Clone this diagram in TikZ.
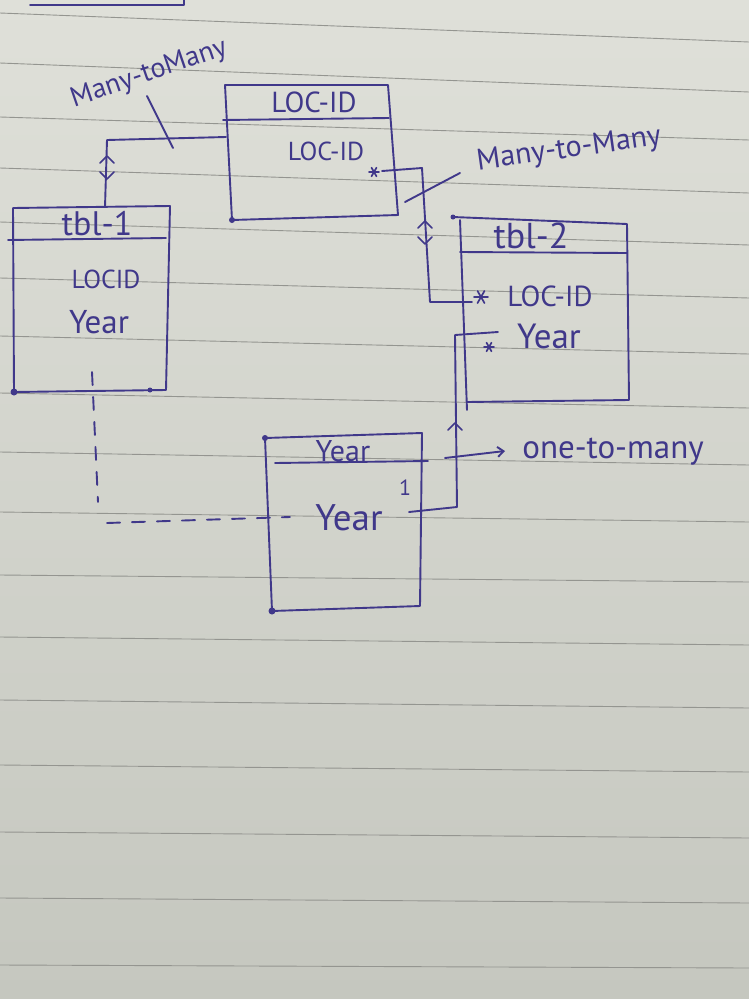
\documentclass[tikz,border=0pt]{standalone}
\usepackage{fontspec}
\setmainfont{PT Sans}
\usetikzlibrary{arrows.meta}
\definecolor{ink}{RGB}{64,56,138}
\definecolor{paperT}{RGB}{223,224,217}
\definecolor{paperB}{RGB}{197,199,191}
\definecolor{ruling}{RGB}{148,149,144}
\begin{document}
\begin{tikzpicture}[x=1pt,y=-1pt,
  inkline/.style={draw=ink,line width=1.9pt,line cap=round,line join=round},
  ruleline/.style={draw=ruling,line width=0.9pt},
  dsh/.style={inkline,dash pattern=on 13pt off 12pt},
  hand/.style={text=ink,inner sep=0pt,font=\fontsize{#1}{#1}\selectfont},
  hand/.default=24,
  chevup/.pic={\draw[inkline,line width=1.6pt] (-7,7) -- (0,0) -- (7,7);},
  chevdn/.pic={\draw[inkline,line width=1.6pt] (-7,-7) -- (0,0) -- (7,-7);},
  astpic/.pic={\foreach \ang in {0,60,120}{\draw[ink,line width=1.7pt,line cap=round] (\ang:#1) -- (\ang+180:#1);}},
  pics/astpic/.default=5]
\useasboundingbox (0,0) rectangle (749,999);
% paper
\fill[top color=paperT,bottom color=paperB] (0,0) rectangle (749,999);
\foreach \a/\b in {13/42,63/92,117/140,168/193,222/245,278/298,336/354,393/408,452/465,512/522,575/582,637/645,700/708,765/772,832/838,898/903,965/968}
  \draw[ruleline] (0,\a) -- (749,\b);
% fragment of a box at the top
\draw[inkline] (30,5) -- (184,5) -- (184,-2);

% ---------- LOC-ID box ----------
\coordinate (la) at (225,85); \coordinate (lb) at (388,85);
\coordinate (lc) at (398,215); \coordinate (ld) at (232,220);
\draw[inkline] (la) -- (lb) -- (lc) -- (ld) -- cycle;
\draw[inkline] (223,120) -- (389,118);
\node[hand=29] (loctitle) at (314,102) {LOC-ID};
\node[hand=26] (locfield) at (326,151) {LOC-ID};
\coordinate (locstar) at (374,172);
\pic at (locstar) {astpic=5};
\fill[ink] (ld) circle (3);

% ---------- tbl-1 ----------
\coordinate (ta) at (13,208); \coordinate (tb) at (170,206);
\coordinate (tc) at (166,390); \coordinate (td) at (14,392);
\draw[inkline] (ta) -- (tb) -- (tc) -- (td) -- cycle;
\draw[inkline] (8,240) -- (166,238);
\node[hand=34] (t1title) at (97,224) {tbl-1};
\node[hand=26] (t1f1) at (106,279) {LOCID};
\node[hand=33] (t1f2) at (99,322) {Year};
\fill[ink] (td) circle (3.5);
\fill[ink] (150,390) circle (2.5);

% ---------- tbl-2 ----------
\coordinate (sa) at (453,217); \coordinate (sb) at (627,224);
\coordinate (sc) at (629,400); \coordinate (sd) at (467,402);
\draw[inkline] (sa) -- (sb) -- (sc) -- (sd);
\draw[inkline] (460,220) -- (467,410);
\draw[inkline] (460,252) -- (627,253);
\node[hand=36] (t2title) at (531,236) {tbl-2};
\node[hand=29] (t2f1) at (550,296) {LOC-ID};
\node[hand=35] (t2f2) at (549,336) {Year};
\pic at (481,297) {astpic=7};
\pic at (489,347) {astpic=5};
\fill[ink] (sa) circle (2.5);

% ---------- Year box ----------
\coordinate (ya) at (265,438); \coordinate (yb) at (422,433);
\coordinate (yc) at (420,606); \coordinate (yd) at (272,611);
\draw[inkline] (ya) -- (yb) -- (yc) -- (yd) -- cycle;
\draw[inkline] (275,463) -- (428,461);
\node[hand=30] (ytitle) at (343,451) {Year};
\node[hand=37] (yfield) at (349,518) {Year};
\node[hand=22] (yone) at (405,488) {1};
\fill[ink] (ya) circle (3);
\fill[ink] (yd) circle (3.5);

% ---------- connector LOC-ID -- tbl-1 ----------
\coordinate (c1a) at (226,137);
\coordinate (c1b) at (107,140);
\coordinate (c1c) at (105,207);
\draw[inkline] (c1a) -- (c1b) -- (c1c);
\pic at (107,156) {chevup};
\pic at (107,179) {chevdn};
\coordinate (m1a) at (147,96); \coordinate (m1b) at (173,148);
\draw[inkline] (m1a) -- (m1b);
\node[hand=28,rotate=19] (m1lab) at (149,74) {Many-toMany};

% ---------- connector LOC-ID -- tbl-2 ----------
\coordinate (c2a) at (382,171);
\coordinate (c2b) at (422,168);
\coordinate (c2c) at (430,302);
\coordinate (c2d) at (472,302);
\draw[inkline] (c2a) -- (c2b) -- (c2c) -- (c2d);
\pic at (425,221) {chevup};
\pic at (425,244) {chevdn};
\coordinate (m2a) at (460,173); \coordinate (m2b) at (405,202);
\draw[inkline] (m2a) -- (m2b);
\node[hand=30,rotate=8] (m2lab) at (569,150) {Many-to-Many};

% ---------- connector Year -- tbl-2 ----------
\coordinate (c3a) at (409,512);
\coordinate (c3b) at (457,507);
\coordinate (c3c) at (455,335);
\coordinate (c3d) at (498,332);
\draw[inkline] (c3a) -- (c3b) -- (c3c) -- (c3d);
\pic at (455,423) {chevup};
\coordinate (arA) at (445,458); \coordinate (arB) at (505,451);
\draw[inkline,-{Straight Barb[length=6pt,width=10pt]}] (arA) -- (arB);
\node[hand=33] (m3lab) at (613,452) {one-to-many};

% ---------- dashed connector tbl-1 -- Year ----------
\coordinate (d1) at (92,372); \coordinate (d2) at (98,502);
\coordinate (d3) at (107,523); \coordinate (d4) at (290,517);
\draw[dsh] (d1) -- (d2);
\draw[dsh] (d3) -- (d4);
\end{tikzpicture}
\end{document}
